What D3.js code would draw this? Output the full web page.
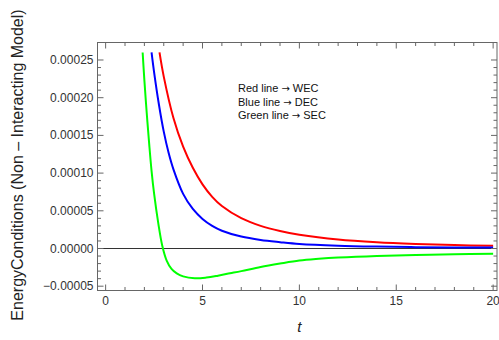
<!DOCTYPE html>
<html>
<head>
<meta charset="utf-8">
<script src="https://cdn.jsdelivr.net/npm/d3@7"></script>
<style>
  body { margin: 0; background: #fff; }
  svg { display: block; font-family: "Liberation Sans", Arial, sans-serif; }
</style>
</head>
<body>
<svg id="chart" width="499" height="340"></svg>
<script>
// values (energy conditions, units of 1e-5)
var redT = [2.78, 3.0, 3.5, 4.0, 4.5, 5.0, 5.5, 6.0, 7.0, 8.0, 9.0, 10.0, 12.0, 14.0, 16.0, 18.0, 20.0]
var redV = [26.0, 22.8, 17.3, 13.5, 10.7, 8.5, 6.85, 5.63, 4.02, 3.0, 2.31, 1.82, 1.18, 0.82, 0.6, 0.45, 0.36]

var blueT = [2.37, 2.5, 2.75, 3.0, 3.25, 3.5, 4.0, 4.5, 5.0, 5.5, 6.0, 7.0, 8.0, 9.0, 10.0, 12.0, 14.0, 16.0, 18.0, 20.0]
var blueV = [26.0, 23.4, 19.1, 15.5, 12.7, 10.5, 7.25, 5.24, 3.92, 3.0, 2.36, 1.58, 1.13, 0.84, 0.6, 0.37, 0.25, 0.18, 0.14, 0.12]

var greenT = [1.91, 2.0, 2.12, 2.25, 2.37, 2.5, 2.72, 2.92, 3.15, 3.4, 3.67, 4.0, 4.6, 5.2, 5.8, 6.42, 7.0, 8.0, 9.0, 10.0, 11.0, 12.0, 14.0, 16.0, 18.0, 20.0]
var greenV = [26.0, 22.3, 18.0, 13.8, 10.3, 7.3, 3.3, 0.4, -1.6, -2.7, -3.3, -3.7, -3.95, -3.85, -3.6, -3.29, -3.0, -2.45, -2.0, -1.6, -1.37, -1.2, -0.98, -0.85, -0.76, -0.7]

var xMajor = [0, 5, 10, 15, 20]
var yMajor = [-0.00005, 0, 0.00005, 0.0001, 0.00015, 0.0002, 0.00025]
var yLabels = ["\u22120.00005", "0.00000", "0.00005", "0.00010", "0.00015", "0.00020", "0.00025"]
var legendNames = ["Red line", "Blue line", "Green line"]
var legendCodes = ["WEC", "DEC", "SEC"]

var series = [
    {t: redT, v: redV, color: "#ff0000"},
    {t: blueT, v: blueV, color: "#0000ff"},
    {t: greenT, v: greenV, color: "#00ff00"}
]

var plotL = 97.5, plotR = 497, plotT = 42.5, plotB = 290.5

var x = d3.scaleLinear().domain([-0.42, 20.2]).range([plotL, plotR])
var y = d3.scaleLinear().domain([-0.0000557, 0.0002732]).range([plotB, plotT])

var svg = d3.select("#chart")

svg.append("clipPath").attr("id", "clip")
    .append("rect")
    .attr("x", plotL).attr("y", plotT)
    .attr("width", plotR - plotL).attr("height", plotB - plotT)

// zero line
svg.append("line")
    .attr("x1", plotL).attr("x2", plotR)
    .attr("y1", y(0)).attr("y2", y(0))
    .attr("stroke", "#333").attr("stroke-width", 1)

var line = d3.line()
    .x(function(d) { return x(d[0]) })
    .y(function(d) { return y(d[1] * 1e-5) })
    .curve(d3.curveCatmullRom.alpha(0.5))

series.forEach(function(s) {
    var pts = s.t.map(function(t, i) { return [t, s.v[i]] })
    svg.append("path")
        .attr("d", line(pts))
        .attr("fill", "none")
        .attr("stroke", s.color)
        .attr("stroke-width", 2)
        .attr("clip-path", "url(#clip)")
})

// frame
svg.append("rect")
    .attr("x", plotL).attr("y", plotT)
    .attr("width", plotR - plotL).attr("height", plotB - plotT)
    .attr("fill", "none").attr("stroke", "#666").attr("stroke-width", 1)

// ticks, inward on all four sides
var tickColor = "#666"
var xMinor = d3.range(0, 21, 1)
var yMinor = d3.range(-5, 26, 1).map(function(d) { return d * 1e-5 })

function isMajorX(d) { return xMajor.indexOf(d) >= 0 }
function isMajorY(d) { return Math.abs(Math.round(d * 1e5) % 5) == 0 }

xMinor.forEach(function(d) {
    var len = isMajorX(d) ? 6 : 3.5
    svg.append("line").attr("x1", x(d)).attr("x2", x(d))
        .attr("y1", plotB).attr("y2", plotB - len)
        .attr("stroke", tickColor)
    svg.append("line").attr("x1", x(d)).attr("x2", x(d))
        .attr("y1", plotT).attr("y2", plotT + len)
        .attr("stroke", tickColor)
})

yMinor.forEach(function(d) {
    var len = isMajorY(d) ? 6 : 3.5
    svg.append("line").attr("y1", y(d)).attr("y2", y(d))
        .attr("x1", plotL).attr("x2", plotL + len)
        .attr("stroke", tickColor)
    svg.append("line").attr("y1", y(d)).attr("y2", y(d))
        .attr("x1", plotR).attr("x2", plotR - len)
        .attr("stroke", tickColor)
})

// tick labels
svg.selectAll(".xl").data(xMajor).join("text")
    .attr("class", "xl")
    .attr("x", function(d) { return x(d) })
    .attr("y", plotB + 14)
    .attr("text-anchor", "middle")
    .attr("font-size", 12)
    .attr("fill", "#333")
    .text(function(d) { return d })

svg.selectAll(".yl").data(yMajor).join("text")
    .attr("class", "yl")
    .attr("x", plotL - 4)
    .attr("y", function(d) { return y(d) + 4 })
    .attr("text-anchor", "end")
    .attr("font-size", 12)
    .attr("fill", "#333")
    .text(function(d, i) { return yLabels[i] })

// axis labels
svg.append("text")
    .attr("x", x(10)).attr("y", 332)
    .attr("text-anchor", "middle")
    .attr("font-size", 15)
    .attr("font-style", "italic")
    .attr("fill", "#222")
    .text("t")

svg.append("text")
    .attr("transform", "translate(23,165) rotate(-90)")
    .attr("text-anchor", "middle")
    .attr("font-size", 16)
    .attr("fill", "#222")
    .text("EnergyConditions (Non \u2013 Interacting Model)")

// legend text
var lg = svg.selectAll(".lg").data(legendNames).join("text")
    .attr("class", "lg")
    .attr("x", 238)
    .attr("y", function(d, i) { return 92 + i * 13.5 })
    .attr("font-size", 11)
    .attr("fill", "#111")
lg.append("tspan").text(function(d) { return d + " " })
lg.append("tspan").attr("font-family", "DejaVu Sans").attr("font-size", 10).text("\u2192")
lg.append("tspan").text(function(d, i) { return " " + legendCodes[i] })
</script>
</body>
</html>
